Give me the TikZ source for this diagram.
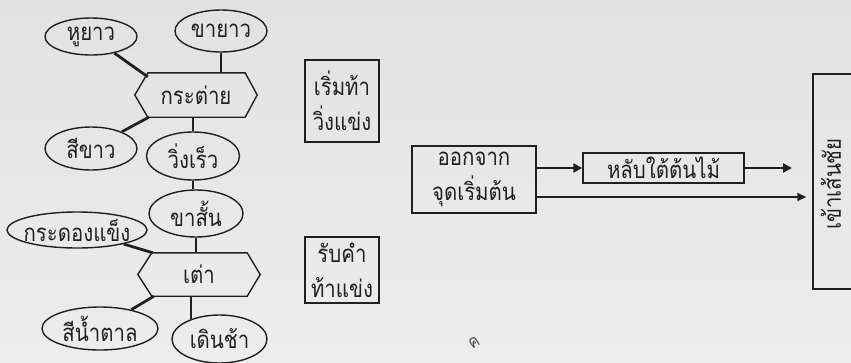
\documentclass[tikz,border=0pt]{standalone}
\usepackage{fontspec}
\setmainfont[Script=Thai,FakeStretch=0.85]{Loma}
\usetikzlibrary{arrows.meta,shapes.geometric}
\definecolor{ink}{HTML}{231F20}
\definecolor{bgtop}{HTML}{E2E2E3}
\definecolor{bgbot}{HTML}{EDEDED}
\begin{document}
\begin{tikzpicture}[x=1pt,y=-1pt,
  every node/.style={font=\fontsize{24}{35}\selectfont, text=ink, align=center},
  oval/.style={ellipse, draw=ink, line width=1.4pt, inner xsep=-40pt, inner ysep=-20pt},
  hexcore/.style={inner sep=0pt, minimum width=122pt, minimum height=44pt},
  hexline/.style={draw=ink, line width=1.4pt},
  box/.style={draw=ink, line width=1.4pt, inner sep=0pt},
  link/.style={line width=2.8pt, draw=ink},
  arrthick/.style={draw=ink, line width=2.8pt, -{Triangle[length=9pt,width=9pt]}},
  arrthin/.style={draw=ink, line width=1.8pt, -{Triangle[length=9pt,width=8pt]}},
]
\fill[top color=bgtop, bottom color=bgbot] (0,0) rectangle (851,362);
\useasboundingbox (0,0) rectangle (851,362);

% rabbit group
\node[hexcore] (rab) at (196,95) {กระต่าย};
\draw[hexline] ([xshift=13pt]rab.north west) -- ([xshift=-12pt]rab.north east) -- (rab.east)
  -- ([xshift=-12pt]rab.south east) -- ([xshift=13pt]rab.south west) -- (rab.west) -- cycle;
\coordinate (rabNW) at ([xshift=13pt,yshift=-4pt]rab.north west);
\coordinate (rabSW) at ([xshift=14pt]rab.south west);
\node[oval, minimum width=92pt, minimum height=37pt] (hu) at (91,36.5) {หูยาว};
\node[oval, minimum width=92pt, minimum height=42pt] (kha) at (221,31) {ขายาว};
\node[oval, minimum width=92pt, minimum height=43pt] (sik) at (91,148.5) {สีขาว};
\node[oval, minimum width=93pt, minimum height=48pt] (wing) at (193,156) {วิ่งเร็ว};

% turtle group
\node[hexcore, minimum height=43pt] (tao) at (199,274.5) {เต่า};
\draw[hexline] ([xshift=14pt]tao.north west) -- ([xshift=-13pt]tao.north east) -- (tao.east)
  -- ([xshift=-13pt]tao.south east) -- ([xshift=14pt]tao.south west) -- (tao.west) -- cycle;
\coordinate (taoNW) at ([xshift=15pt]tao.north west);
\coordinate (taoSW) at ([xshift=16pt]tao.south west);
\node[oval, minimum width=94pt, minimum height=47pt] (kas) at (196,213.5) {ขาสั้น};
\node[oval, minimum width=140pt, minimum height=36pt] (kra) at (77,230) {กระดองแข็ง};
\node[oval, minimum width=116pt, minimum height=43pt] (sin) at (100,328.5) {สีน้ำตาล};
\node[oval, minimum width=95pt, minimum height=48pt] (doen) at (219.5,339) {เดินช้า};

% links
\draw[link] (hu) -- (rabNW);
\draw[link] (kha.south) -- (kha.south |- rab.north);
\draw[link] (sik) -- (rabSW);
\draw[link] (wing.north) -- (wing.north |- rab.south);
\draw[link] (wing.south) -- (wing.south |- kas.north);
\draw[link] (kra) -- (taoNW);
\draw[link] (kas.south) -- (kas.south |- tao.north);
\draw[link] (sin) -- (taoSW);
\draw[link] (tao.south -| doen.145) -- (doen.145);

% middle boxes
\node[box, minimum width=74pt, minimum height=82pt] (chal) at (342,101) {เริ่มท้า\\วิ่งแข่ง};
\node[box, minimum width=74pt, minimum height=66pt] (acc) at (342,270) {รับคำ\\ท้าแข่ง};

% race
\node[box, minimum width=124pt, minimum height=67pt] (start) at (474,179.5) {ออกจาก\\จุดเริ่มต้น};
\node[box, minimum width=161pt, minimum height=30pt] (sleep) at (663.5,168) {หลับใต้ต้นไม้};
\node[box, minimum width=57pt, minimum height=215pt] (finbox) at (841.5,181.5) {};
\node[rotate=90, inner sep=0pt] (fin) at (831,184) {เข้าเส้นชัย};
\coordinate (sleepend) at (792,168);
\coordinate (lowrow) at (0,197);
\draw[arrthick] (sleep.west -| start.east) -- (sleep.west);
\draw[arrthick] (sleep.east) -- (sleepend);
\draw[arrthin, shorten >=6pt] (start.east |- lowrow) -- (finbox.west |- lowrow);

% small glyph near the bottom
\node[rotate=30, font=\fontsize{18}{20}\selectfont, inner sep=0pt, text=ink!80] (stray) at (474,343) {ค};
\end{tikzpicture}
\end{document}
